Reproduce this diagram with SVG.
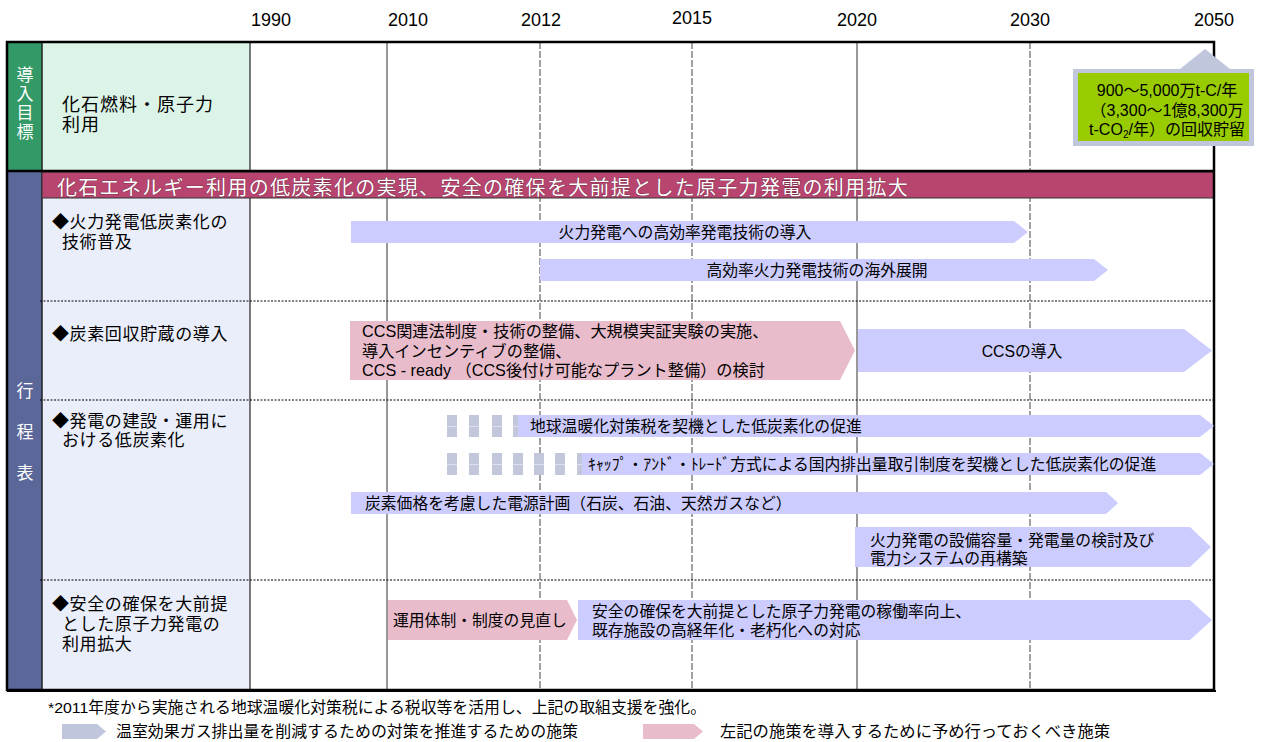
<svg xmlns="http://www.w3.org/2000/svg" width="1266" height="742" viewBox="0 0 1266 742">
<style>
.t{font-family:"Liberation Sans","Noto Sans CJK JP",sans-serif;fill:#000}
.yr{font-family:"Liberation Sans",sans-serif;font-size:18px;text-anchor:middle;fill:#000}
.lab{font-size:17px;letter-spacing:0.6px}
.at{font-size:15.8px}
.vt{font-family:"Noto Sans CJK JP",sans-serif;font-size:17px;fill:#fff;writing-mode:vertical-rl}
.blue{fill:#ccccff}
.pink{fill:#e8bccb}
.gr{fill:#c3c7dc}
.hl{stroke:#dde0ee;stroke-width:1}
.solid{stroke:#333;stroke-width:1}
.dash{stroke:#444;stroke-width:1;stroke-dasharray:7 2}
.dot{stroke:#000;stroke-width:1;stroke-dasharray:2 1.5}
</style>
<rect width="1266" height="742" fill="#fff"/>
<g id="years">
<text class="yr" x="271" y="26">1990</text>
<text class="yr" x="408" y="26">2010</text>
<text class="yr" x="541" y="26">2012</text>
<text class="yr" x="692" y="24">2015</text>
<text class="yr" x="857" y="26">2020</text>
<text class="yr" x="1030" y="26">2030</text>
<text class="yr" x="1214" y="26">2050</text>
</g>
<g id="backgrounds">
<rect x="7" y="42" width="35" height="129" fill="#339966"/>
<rect x="42" y="42" width="208" height="129" fill="#dcf4e7"/>
<rect x="7" y="171" width="35" height="519" fill="#5b6699"/>
<rect x="42" y="171" width="208" height="519" fill="#eaeefa"/>
</g>
<g id="grid">
<line class="solid" x1="387" y1="42" x2="387" y2="690"/>
<line class="dash" x1="540" y1="42" x2="540" y2="690"/>
<line class="dash" x1="692" y1="42" x2="692" y2="690"/>
<line class="solid" x1="857" y1="42" x2="857" y2="690"/>
<line class="dash" x1="1030" y1="42" x2="1030" y2="690"/>
<line x1="250" y1="42" x2="250" y2="690" stroke="#222" stroke-width="1.2"/>
<line x1="42" y1="42" x2="42" y2="690" stroke="#222" stroke-width="1.5"/>
<line class="dot" x1="40" y1="301" x2="1214" y2="301"/>
<line class="dot" x1="40" y1="400" x2="1214" y2="400"/>
<line class="dot" x1="40" y1="580" x2="1214" y2="580"/>
</g>
<g id="header">
<rect x="42" y="172" width="1172" height="26" fill="#b8456f" stroke="#333" stroke-width="1"/>
<text class="t" x="57" y="194.5" style="font-size:20px;letter-spacing:1.3px;fill:#fff;stroke:#5a1a30;stroke-width:0.6px;paint-order:stroke">化石エネルギー利用の低炭素化の実現、安全の確保を大前提とした原子力発電の利用拡大</text>
</g>
<g id="frame" fill="none" stroke="#000">
<rect x="7" y="42" width="1207" height="648" stroke-width="2.5"/>
<line x1="7" y1="171" x2="1214" y2="171" stroke-width="2.5"/>
<line x1="7" y1="691" x2="1216" y2="691" stroke-width="2"/>
</g>
<g id="label-goal">
<text class="vt" x="25" y="66" style="letter-spacing:2px">導入目標</text>
<text class="t" style="font-size:18px;letter-spacing:1px"><tspan x="62" y="111">化石燃料・原子力</tspan><tspan x="62" y="131">利用</tspan></text>
</g>
<g id="label-schedule">
<text class="vt" x="25" y="382" style="letter-spacing:24px">行程表</text>
</g>
<g id="row-thermal">
<text class="t lab"><tspan x="52" y="228">◆火力発電低炭素化の</tspan><tspan x="62" y="248">技術普及</tspan></text>
</g>
<g id="row-ccs">
<text class="t lab" x="52" y="340">◆炭素回収貯蔵の導入</text>
</g>
<g id="row-build">
<text class="t lab"><tspan x="52" y="427">◆発電の建設・運用に</tspan><tspan x="62" y="446">おける低炭素化</tspan></text>
</g>
<g id="row-nuclear">
<text class="t lab"><tspan x="52" y="610">◆安全の確保を大前提</tspan><tspan x="62" y="630">とした原子力発電の</tspan><tspan x="62" y="650">利用拡大</tspan></text>
</g>
<g id="bar-high-efficiency">
<path class="blue" d="M351 221H1014L1028 232L1014 243H351Z"/>
<text class="t at" x="685" y="237.5" text-anchor="middle">火力発電への高効率発電技術の導入</text>
</g>
<g id="bar-overseas">
<path class="blue" d="M540 259H1094L1108 270L1094 281H540Z"/>
<text class="t at" x="817" y="275.5" text-anchor="middle">高効率火力発電技術の海外展開</text>
</g>
<g id="bar-ccs-prep">
<path class="pink" d="M350 321H840L855 350.5L840 380H350Z"/>
<text class="t" style="font-size:16.2px"><tspan x="362" y="337">CCS関連法制度・技術の整備、大規模実証実験の実施、</tspan><tspan x="362" y="357">導入インセンティブの整備、</tspan><tspan x="362" y="376">CCS - ready （CCS後付け可能なプラント整備）の検討</tspan></text>
</g>
<g id="bar-ccs">
<path class="blue" d="M858 329H1184L1212 350.5L1184 372H858Z"/>
<text class="t at" x="1022" y="357" text-anchor="middle">CCSの導入</text>
</g>
<g id="bar-tax">
<g class="gr">
<rect x="447" y="415" width="10" height="22"/>
<rect x="469" y="415" width="10" height="22"/>
<rect x="492" y="415" width="10" height="22"/>
<rect x="513" y="415" width="10" height="22"/>
</g>
<path class="hl" d="M447 426.5h10M469 426.5h10M492 426.5h10M513 426.5h5"/>
<path class="blue" d="M518 415H1200L1214 426L1200 437H518Z"/>
<text class="t at" x="530" y="431.5">地球温暖化対策税を契機とした低炭素化の促進</text>
</g>
<g id="bar-cap-trade">
<g class="gr">
<rect x="447" y="453" width="10" height="22"/>
<rect x="469" y="453" width="10" height="22"/>
<rect x="492" y="453" width="10" height="22"/>
<rect x="513" y="453" width="10" height="22"/>
<rect x="534" y="453" width="10" height="22"/>
<rect x="555" y="453" width="10" height="22"/>
<rect x="577" y="453" width="10" height="22"/>
</g>
<path class="hl" d="M447 464.5h10M469 464.5h10M492 464.5h10M513 464.5h10M534 464.5h10M555 464.5h10M577 464.5h5"/>
<path class="blue" d="M582 453H1200L1214 464L1200 475H582Z"/>
<text class="t at" x="588" y="469.5">ｷｬｯﾌﾟ・ｱﾝﾄﾞ・ﾄﾚｰﾄﾞ方式による国内排出量取引制度を契機とした低炭素化の促進</text>
</g>
<g id="bar-carbon-price">
<path class="blue" d="M351 492H1106L1118 503L1106 514H351Z"/>
<text class="t at" x="365" y="508.5">炭素価格を考慮した電源計画（石炭、石油、天然ガスなど）</text>
</g>
<g id="bar-capacity">
<path class="blue" d="M855 527H1190L1211 547L1190 567H855Z"/>
<text class="t at"><tspan x="870" y="545.5">火力発電の設備容量・発電量の検討及び</tspan><tspan x="870" y="563.5">電力システムの再構築</tspan></text>
</g>
<g id="bar-review">
<path class="pink" d="M388 600H567L577 620L567 640H388Z"/>
<text class="t at" x="393" y="625.5">運用体制・制度の見直し</text>
</g>
<g id="bar-nuclear">
<path class="blue" d="M578 600H1190L1212 620L1190 640H578Z"/>
<text class="t at"><tspan x="592" y="616.5">安全の確保を大前提とした原子力発電の稼働率向上、</tspan><tspan x="592" y="636">既存施設の高経年化・老朽化への対応</tspan></text>
</g>
<g id="callout-target">
<path d="M1205 49L1230 69H1180Z" fill="#c0c6dc"/>
<rect x="1073" y="69" width="181" height="77" fill="#c0c6dc"/>
<rect x="1078" y="73" width="171" height="68" fill="#99cc00"/>
<text class="t" style="font-size:16px" text-anchor="middle"><tspan x="1167" y="96">900～5,000万t-C/年</tspan><tspan x="1167" y="116">（3,300～1億8,300万</tspan><tspan x="1167" y="135">t-CO<tspan style="font-size:10px" dy="3">2</tspan><tspan dy="-3">/年）の回収貯留</tspan></tspan></text>
</g>
<g id="footnote">
<text class="t" x="48" y="713" style="font-size:15.5px" textLength="658" lengthAdjust="spacingAndGlyphs">*2011年度から実施される地球温暖化対策税による税収等を活用し、上記の取組支援を強化。</text>
</g>
<g id="legend-measure">
<path d="M62 724H97L106 731.5L97 739H62Z" fill="#c0c6dc"/>
<text class="t" x="116" y="737" style="font-size:15.5px" textLength="462" lengthAdjust="spacingAndGlyphs">温室効果ガス排出量を削減するための対策を推進するための施策</text>
</g>
<g id="legend-prep">
<path d="M643 724H694L703 731.5L694 739H643Z" fill="#e8bccb"/>
<text class="t" x="720" y="737" style="font-size:15.5px" textLength="390" lengthAdjust="spacingAndGlyphs">左記の施策を導入するために予め行っておくべき施策</text>
</g>
</svg>
